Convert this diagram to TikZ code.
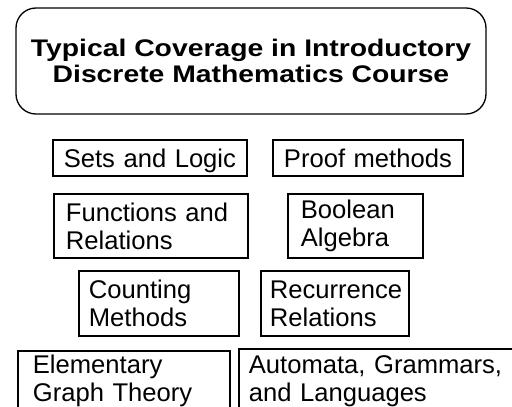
\documentclass[tikz,border=0pt]{standalone}
\usepackage{fontspec}
\setmainfont{Liberation Sans}
\newfontfamily\titlefont{Liberation Sans}[FakeStretch=1.18]
\usetikzlibrary{positioning}

\begin{document}
\begin{tikzpicture}[x=1pt, y=-1pt,
      every node/.style={font=\fontsize{25.6}{28}\selectfont},
      head/.style={rectangle, draw, line width=1.3pt, rounded corners=20pt,
                   minimum width=470pt, minimum height=106pt, align=center,
                   font=\titlefont\bfseries\fontsize{24}{26}\selectfont},
      topic/.style={rectangle, draw, line width=1.8pt, anchor=north west,
                    inner ysep=0pt, align=left},
      single/.style={topic, align=center, minimum height=36pt, text depth=0pt}
    ]
    \useasboundingbox (0,0) rectangle (512,407);
    \clip (0,0) rectangle (512,407);

    \node[head] (title) at (251,61)
          {Typical Coverage in Introductory\\ Discrete Mathematics Course};

    \node[single, inner xsep=10pt, text width=174pt]
          (sets) at (52,139) {Sets and Logic};
    \node[single, inner xsep=10pt, text width=170pt]
          (proof) at (272,139) {Proof methods};
    \node[topic, minimum height=64pt, inner xsep=12pt, text width=170pt]
          (func) at (53,193) {Functions and\\ Relations};
    \node[topic, minimum height=64pt, inner xsep=13pt, text width=109pt]
          (bool) at (287,193) {Boolean\\ Algebra};
    \node[topic, minimum height=65pt, inner xsep=10pt, text width=140pt]
          (count) at (78,270) {Counting\\ Methods};
    \node[topic, minimum height=65pt, inner xsep=9pt, text width=130pt]
          (recur) at (260,270) {Recurrence\\ Relations};
    \node[topic, minimum height=60pt, inner xsep=15pt, text width=182pt]
          (graph) at (17,350) {Elementary\\ Graph Theory};
    \node[topic, minimum height=64pt, inner xsep=10pt, text width=270pt]
          (auto) at (238,348) {Automata, Grammars,\\ and Languages};
  \end{tikzpicture}
\end{document}
